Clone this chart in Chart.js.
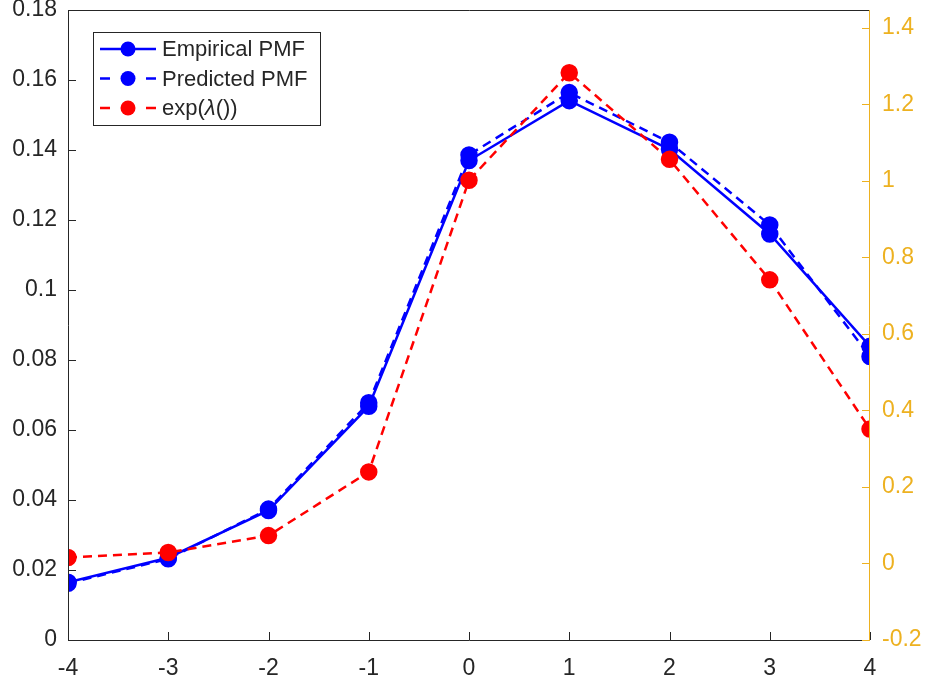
<!DOCTYPE html>
<html>
<head>
<meta charset="utf-8">
<title>PMF vs exp(lambda)</title>
<script src="https://cdn.jsdelivr.net/npm/chart.js@4.4.0/dist/chart.umd.min.js"></script>
<style>
  html, body { margin: 0; padding: 0; background: #fff; }
  #wrap { width: 928px; height: 685px; }
</style>
</head>
<body>
<div id="wrap"><canvas id="pmfChart" width="928" height="685"></canvas></div>
<script>
// values at each integer offset
const xValues = [-4, -3, -2, -1, 0, 1, 2, 3, 4];
const empiricalPmf = [0.0165, 0.0235, 0.0370, 0.0668, 0.1370, 0.1541, 0.1402, 0.1160, 0.0839];
const predictedPmf = [0.0162, 0.0232, 0.0374, 0.0678, 0.1386, 0.1564, 0.1422, 0.1186, 0.0810];
const expLambda = [0.0156, 0.0286, 0.0729, 0.2394, 1.0018, 1.2830, 1.0565, 0.7416, 0.3513];

const AXIS_DARK = '#262626';
const AXIS_ORANGE = '#EDB120';
const FONT = '"Liberation Sans", Arial, Helvetica, sans-serif';

const toPoints = (ys) => ys.map((y, i) => ({ x: xValues[i], y: y }));

const fmt = (v) => String(Number(v.toFixed(3)));

// drop the extra room Chart.js reserves for overhanging tick labels
const noOverhang = (w, h) => (s) => {
  if (w) s.width = w;
  if (h) s.height = h;
  s.paddingTop = 0;
  s.paddingBottom = 0;
  s.paddingLeft = 0;
  s.paddingRight = 0;
};

// MATLAB-style box: inward ticks, dark left/bottom/top, orange right axis
const axesFrame = {
  id: 'axesFrame',
  afterDatasetsDraw(chart) {
    const { ctx, chartArea: { left, right, top, bottom }, scales } = chart;
    const tick = 8;
    ctx.save();
    ctx.lineWidth = 1;

    ctx.strokeStyle = AXIS_DARK;
    ctx.beginPath();
    scales.y.ticks.forEach(t => {
      const py = Math.round(scales.y.getPixelForValue(t.value)) + 0.5;
      ctx.moveTo(left, py);
      ctx.lineTo(left + tick, py);
    });
    scales.x.ticks.forEach(t => {
      const px = Math.round(scales.x.getPixelForValue(t.value)) + 0.5;
      ctx.moveTo(px, bottom);
      ctx.lineTo(px, bottom - tick);
    });
    ctx.stroke();

    ctx.beginPath();
    ctx.moveTo(left + 0.5, top + 0.5);
    ctx.lineTo(right, top + 0.5);
    ctx.moveTo(left + 0.5, top);
    ctx.lineTo(left + 0.5, bottom + 0.5);
    ctx.lineTo(right, bottom + 0.5);
    ctx.stroke();

    ctx.strokeStyle = AXIS_ORANGE;
    ctx.beginPath();
    scales.y1.ticks.forEach(t => {
      const py = Math.round(scales.y1.getPixelForValue(t.value)) + 0.5;
      ctx.moveTo(right, py);
      ctx.lineTo(right - tick, py);
    });
    ctx.moveTo(right - 0.5, top);
    ctx.lineTo(right - 0.5, bottom + 1);
    ctx.stroke();
    ctx.restore();
  }
};

// legend box with line + marker samples
const boxLegend = {
  id: 'boxLegend',
  afterDraw(chart) {
    const { ctx } = chart;
    const entries = [
      { ds: chart.data.datasets[2], parts: [['Empirical PMF', 'normal']] },
      { ds: chart.data.datasets[1], parts: [['Predicted PMF', 'normal']] },
      { ds: chart.data.datasets[0], parts: [['exp(', 'normal'], ['\u03BB', 'italic'], ['())', 'normal']] }
    ];
    const bx = 93, by = 32, bw = 227, bh = 93;
    ctx.save();
    ctx.fillStyle = '#fff';
    ctx.fillRect(bx, by, bw, bh);
    ctx.strokeStyle = AXIS_DARK;
    ctx.lineWidth = 1;
    ctx.strokeRect(bx + 0.5, by + 0.5, bw, bh);

    entries.forEach((e, i) => {
      const cy = by + 17 + i * 29.5;
      ctx.strokeStyle = e.ds.borderColor;
      ctx.lineWidth = e.ds.borderWidth;
      ctx.beginPath();
      if (e.ds.borderDash) {
        ctx.moveTo(100, cy); ctx.lineTo(110, cy);
        ctx.moveTo(146, cy); ctx.lineTo(156, cy);
      } else {
        ctx.moveTo(100, cy); ctx.lineTo(156, cy);
      }
      ctx.stroke();
      ctx.fillStyle = e.ds.pointBackgroundColor;
      ctx.beginPath();
      ctx.arc(128, cy, 7.5, 0, Math.PI * 2);
      ctx.fill();

      ctx.fillStyle = AXIS_DARK;
      ctx.textBaseline = 'middle';
      let tx = 162;
      e.parts.forEach(([txt, style]) => {
        ctx.font = (style === 'italic' ? 'italic ' : '') + '22px ' + FONT;
        ctx.fillText(txt, tx, cy + 1);
        tx += ctx.measureText(txt).width;
      });
    });
    ctx.restore();
  }
};

const ctx = document.getElementById('pmfChart');
new Chart(ctx, {
  type: 'line',
  data: {
    datasets: [
      {
        label: 'exp(\u03BB())',
        data: toPoints(expLambda),
        yAxisID: 'y1',
        borderColor: '#FF0000',
        pointBackgroundColor: '#FF0000',
        pointBorderColor: '#FF0000',
        borderWidth: 2.5,
        borderDash: [9, 6],
        pointRadius: 7.5,
        order: 0,
        clip: 0
      },
      {
        label: 'Predicted PMF',
        data: toPoints(predictedPmf),
        yAxisID: 'y',
        borderColor: '#0000FF',
        pointBackgroundColor: '#0000FF',
        pointBorderColor: '#0000FF',
        borderWidth: 2.5,
        borderDash: [9, 6],
        pointRadius: 7.5,
        order: 1,
        clip: 0
      },
      {
        label: 'Empirical PMF',
        data: toPoints(empiricalPmf),
        yAxisID: 'y',
        borderColor: '#0000FF',
        pointBackgroundColor: '#0000FF',
        pointBorderColor: '#0000FF',
        borderWidth: 2.5,
        pointRadius: 7.5,
        order: 2,
        clip: 0
      }
    ]
  },
  options: {
    responsive: false,
    animation: false,
    layout: { padding: { top: 7, left: 0, right: 0, bottom: 0 } },
    plugins: {
      legend: { display: false },
      tooltip: { enabled: false }
    },
    scales: {
      x: {
        type: 'linear',
        position: 'bottom',
        min: -4,
        max: 4,
        grid: { display: false, drawTicks: false },
        border: { display: false },
        ticks: {
          stepSize: 1,
          padding: 15,
          color: AXIS_DARK,
          font: { family: FONT, size: 23 },
          callback: v => fmt(v)
        },
        afterFit: noOverhang(0, 45)
      },
      y: {
        position: 'left',
        min: 0,
        max: 0.18,
        grid: { display: false, drawTicks: false },
        border: { display: false },
        ticks: {
          stepSize: 0.02,
          padding: 11,
          color: AXIS_DARK,
          font: { family: FONT, size: 23 },
          callback: v => fmt(v)
        },
        afterFit: noOverhang(68, 0)
      },
      y1: {
        position: 'right',
        min: -0.2,
        max: 1.447,
        grid: { display: false, drawTicks: false },
        border: { display: false },
        ticks: {
          stepSize: 0.2,
          includeBounds: false,
          padding: 12,
          color: AXIS_ORANGE,
          font: { family: FONT, size: 23 },
          callback: v => fmt(v)
        },
        afterFit: noOverhang(58, 0)
      }
    }
  },
  plugins: [axesFrame, boxLegend]
});
</script>
</body>
</html>
